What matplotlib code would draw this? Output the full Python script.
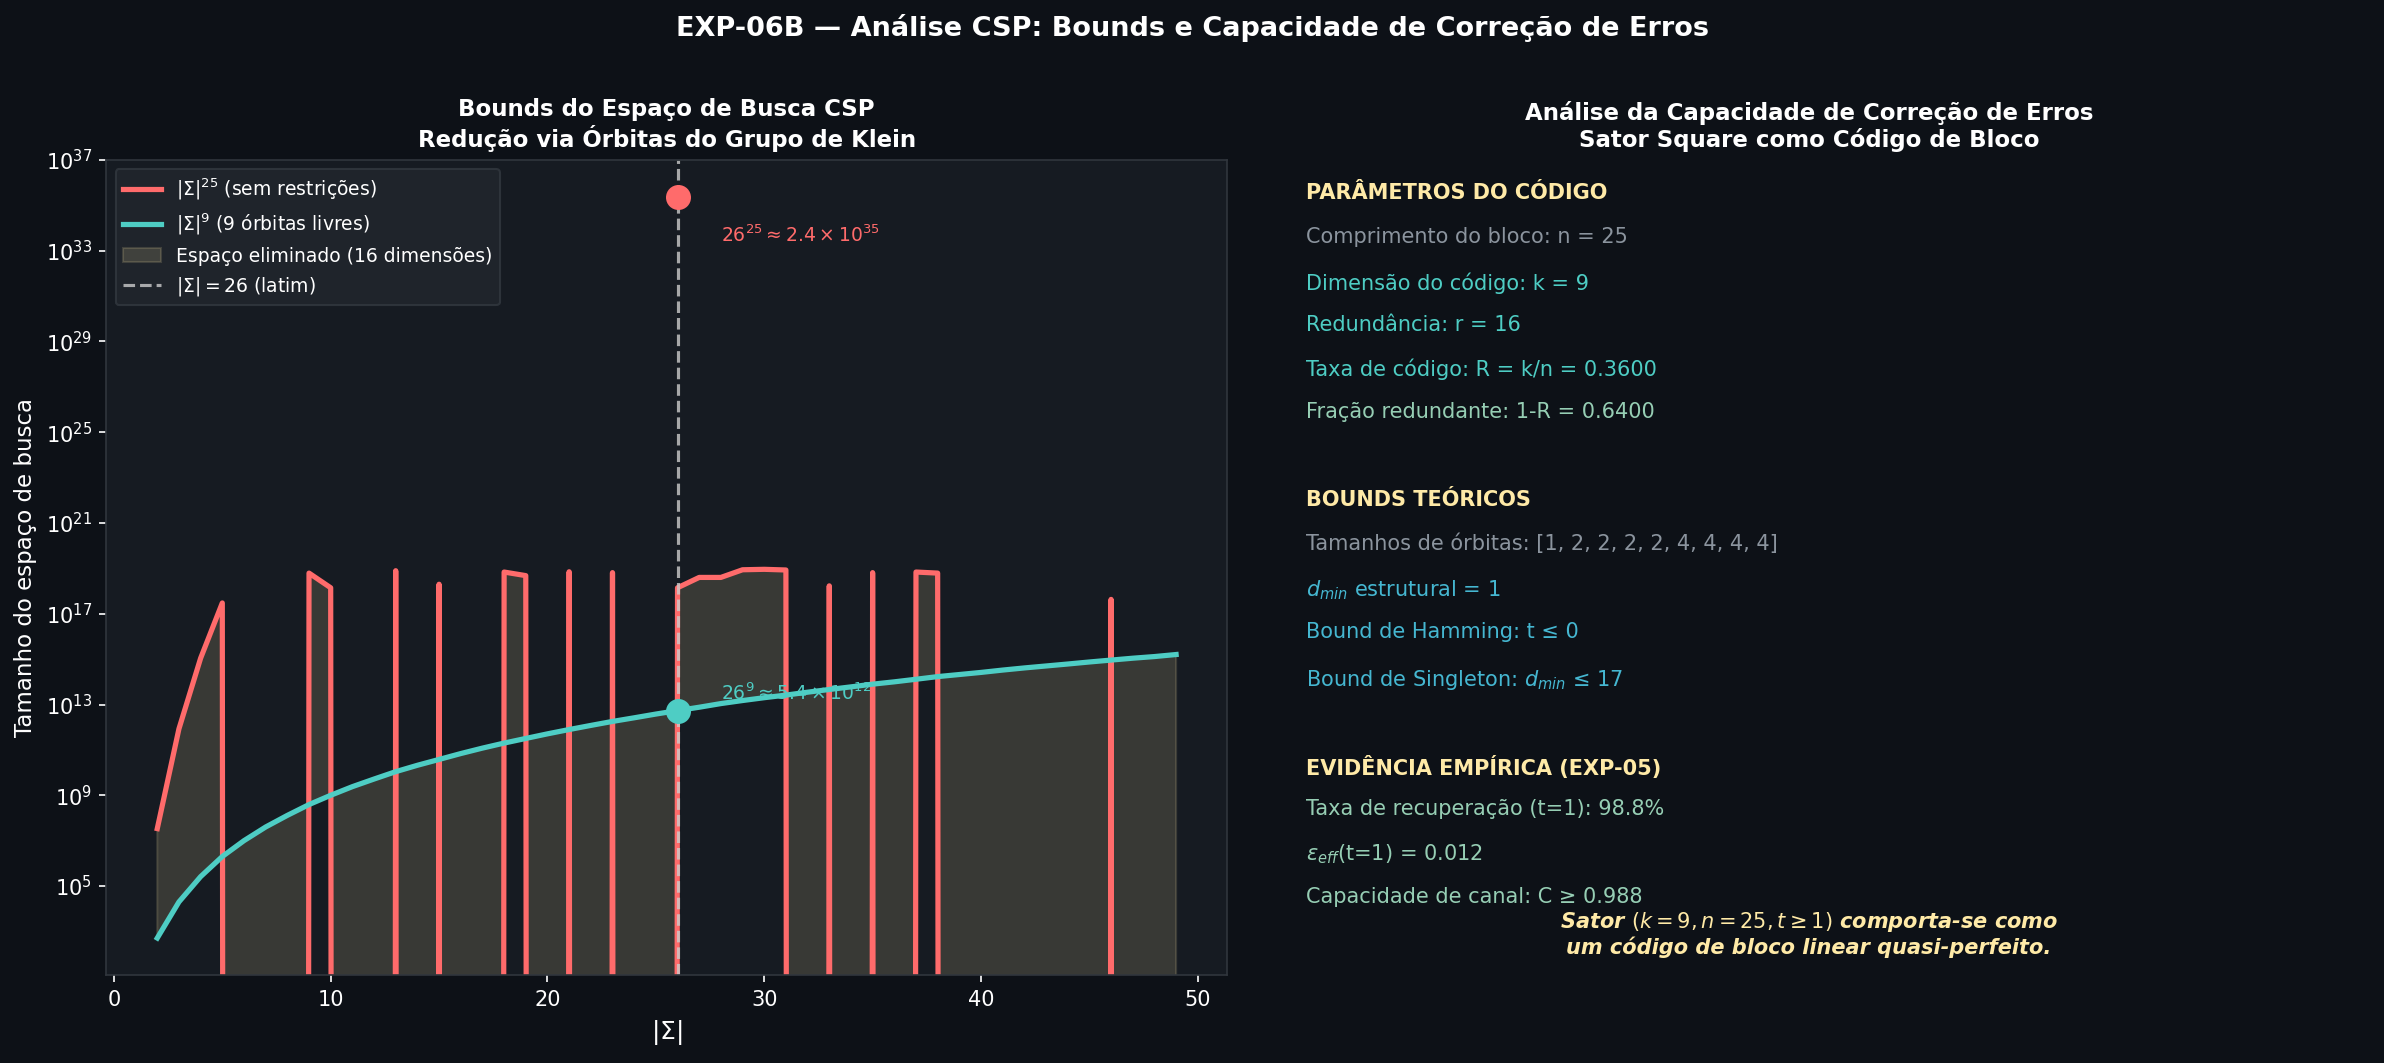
import numpy as np
import matplotlib
matplotlib.use("Agg")
import matplotlib.pyplot as plt

# tamanho do alfabeto |Sigma|
sigma = list(range(2, 50))

# |Sigma|^25 como foi desenhado (int64 com overflow -> 0 = valor nao positivo)
espaco_total = [3.4e7, 8.5e11, 1.1e15, 3.0e17, 0, 0, 0, 6.2e18, 1.4e18, 0,
                0, 7.9e18, 0, 2.0e18, 0, 0, 6.9e18, 4.8e18, 0, 7.1e18,
                0, 6.5e18, 0, 0, 1.4e18, 4.0e18, 4.0e18, 8.7e18, 9.1e18, 8.5e18,
                0, 1.7e18, 0, 6.5e18, 0, 6.9e18, 6.2e18, 0, 0, 0,
                0, 0, 0, 0, 4.3e17, 0, 0, 0]

# |Sigma|^9 (9 orbitas livres)
espaco_orbitas = [5.1e2, 2.0e4, 2.6e5, 2.0e6, 1.0e7, 4.0e7, 1.3e8, 3.9e8, 1.0e9, 2.4e9,
                  5.2e9, 1.1e10, 2.1e10, 3.8e10, 6.9e10, 1.2e11, 2.0e11, 3.2e11, 5.1e11, 7.9e11,
                  1.2e12, 1.8e12, 2.6e12, 3.8e12, 5.4e12, 7.6e12, 1.1e13, 1.5e13, 2.0e13, 2.6e13,
                  3.5e13, 4.6e13, 6.0e13, 7.9e13, 1.0e14, 1.3e14, 1.7e14, 2.1e14, 2.6e14, 3.3e14,
                  4.1e14, 5.0e14, 6.1e14, 7.5e14, 9.1e14, 1.1e15, 1.3e15, 1.6e15]

latim = 26
latim_total = 2.4e35
latim_orbitas = 5.4e12

BG = "#0d1117"
PANEL = "#161b22"
RED = "#ff6b6b"
TEAL = "#4ecdc4"
YELLOW = "#ffeaa7"
GREY = "#8b949e"
BLUE = "#45b7d1"
GREEN = "#96ceb4"

fig = plt.figure(figsize=(2384 / 150, 1063 / 150), dpi=150, facecolor=BG)
fig.suptitle("EXP-06B — Análise CSP: Bounds e Capacidade de Correção de Erros",
             color="white", fontsize=13, fontweight="bold", y=0.974, va="center")

ax = fig.add_axes([0.0446, 0.0828, 0.4701, 0.7667])
ax.set_facecolor(PANEL)

ax.plot(sigma, espaco_total, color=RED, lw=2.5, label=r"$|\Sigma|^{25}$ (sem restrições)")
ax.plot(sigma, espaco_orbitas, color=TEAL, lw=2.5, label=r"$|\Sigma|^9$ (9 órbitas livres)")
ax.fill_between(sigma, espaco_orbitas, espaco_total, color=YELLOW, alpha=0.15,
                label="Espaço eliminado (16 dimensões)")
ax.axvline(latim, color="#cccccc", ls="--", lw=1.5, alpha=0.8, label=r"$|\Sigma| = 26$ (latim)")
ax.set_yscale("log")

ax.plot(latim, latim_total, "o", color=RED, ms=11, zorder=5)
ax.plot(latim, latim_orbitas, "o", color=TEAL, ms=11, zorder=5)
ax.text(28, 10**33.7, r"$26^{25} \approx 2.4 \times 10^{35}$", color=RED, fontsize=9, va="center")
ax.text(28, 10**13.5, r"$26^9 \approx 5.4 \times 10^{12}$", color=TEAL, fontsize=9, va="center")

ax.set_ylim(10**1.08, 10**37.0)
ax.set_xlim(-0.35, 51.35)
ax.set_yticks([10.0**e for e in range(5, 38, 4)])
ax.set_xlabel(r"$|\Sigma|$", color="white", fontsize=12)
ax.set_ylabel("Tamanho do espaço de busca", color="white", fontsize=11)
ax.set_title("Bounds do Espaço de Busca CSP\nRedução via Órbitas do Grupo de Klein",
             color="white", fontsize=11, fontweight="bold")
ax.tick_params(colors="white", labelsize=10, which="major")
ax.tick_params(which="minor", left=False)
for s in ax.spines.values():
    s.set_color("#30363d")

leg = ax.legend(loc="upper left", fontsize=9, facecolor="#21262d", edgecolor="#30363d",
                labelcolor="white", framealpha=0.9)

# painel de texto
ax2 = fig.add_axes([0.549, 0.0828, 0.42, 0.7667])
ax2.axis("off")
fig.text(0.759, 0.881, "Análise da Capacidade de Correção de Erros\nSator Square como Código de Bloco",
         color="white", fontsize=11, fontweight="bold", ha="center", va="center")

linhas = [
    (193, "PARÂMETROS DO CÓDIGO", YELLOW, True),
    (237, "Comprimento do bloco: n = 25", GREY, False),
    (283, "Dimensão do código: k = 9", TEAL, False),
    (325, "Redundância: r = 16", TEAL, False),
    (369, "Taxa de código: R = k/n = 0.3600", TEAL, False),
    (412, "Fração redundante: 1-R = 0.6400", GREEN, False),
    (500, "BOUNDS TEÓRICOS", YELLOW, True),
    (544, "Tamanhos de órbitas: [1, 2, 2, 2, 2, 4, 4, 4, 4]", GREY, False),
    (590, r"$d_{min}$ estrutural = 1", BLUE, False),
    (632, "Bound de Hamming: t ≤ 0", BLUE, False),
    (680, r"Bound de Singleton: $d_{min}$ ≤ 17", BLUE, False),
    (768, "EVIDÊNCIA EMPÍRICA (EXP-05)", YELLOW, True),
    (809, "Taxa de recuperação (t=1): 98.8%", GREEN, False),
    (854, r"$\varepsilon_{eff}$(t=1) = 0.012", GREEN, False),
    (897, "Capacidade de canal: C ≥ 0.988", GREEN, False),
]
for ypx, txt, cor, negrito in linhas:
    fig.text(1306 / 2384, 1 - ypx / 1063, txt, color=cor, fontsize=10,
             fontweight="bold" if negrito else "normal", va="center", ha="left")

fig.text(1809 / 2384, 1 - 934 / 1063,
         r"Sator $(k=9, n=25, t \geq 1)$ comporta-se como" + "\num código de bloco linear quasi-perfeito.",
         color=YELLOW, fontsize=10, fontweight="bold", style="italic", ha="center", va="center")

fig.savefig("out.png", dpi=150, facecolor=BG)
